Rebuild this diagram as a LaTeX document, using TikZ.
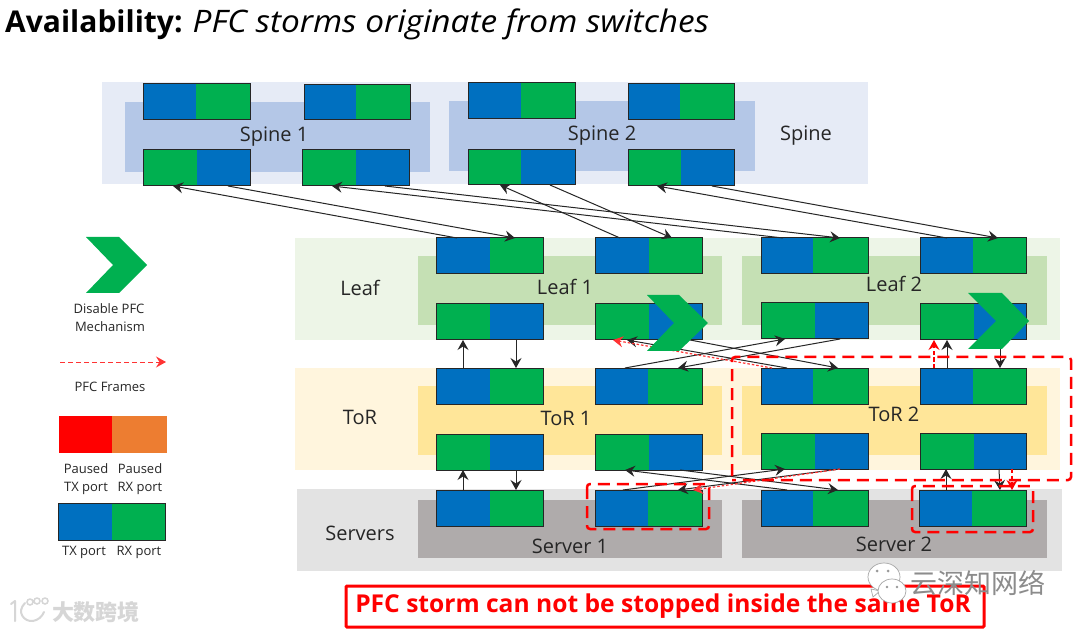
\documentclass[tikz,border=0pt]{standalone}
\usepackage{fontspec}
\setmainfont{Open Sans}
\newfontfamily\cjkfont{Noto Sans CJK SC}
\usetikzlibrary{arrows.meta}
\definecolor{pblue}{HTML}{0070C0}
\definecolor{pgreen}{HTML}{00B050}
\definecolor{spineout}{HTML}{E6EBF6}
\definecolor{spinein}{HTML}{B4C7E7}
\definecolor{leafout}{HTML}{EDF5E7}
\definecolor{leafin}{HTML}{C5E0B4}
\definecolor{torout}{HTML}{FFF5DD}
\definecolor{torin}{HTML}{FFE699}
\definecolor{srvout}{HTML}{E3E3E3}
\definecolor{srvin}{HTML}{AFABAB}
\definecolor{labelc}{HTML}{262626}
\definecolor{pausedrx}{HTML}{ED7D31}
\tikzset{
  portframe/.style={draw=black!85,line width=1pt,inner sep=0pt,outer sep=0pt},
  link/.style={draw=black!85,line width=1pt,-{Stealth[length=10pt,width=11pt,inset=3.5pt]}},
  pfc/.style={draw=red,line width=1.2pt,dash pattern=on 4pt off 2.5pt,-{Stealth[length=10pt,width=11pt,inset=3.5pt]}},
  pfcthin/.style={draw=red!80,line width=1.2pt,dash pattern=on 2.5pt off 2pt,-{Stealth[length=10pt,width=11pt,inset=3.5pt]}},
  stormbox/.style={draw=red,line width=2.5pt,dash pattern=on 12pt off 7pt,rounded corners=3pt},
  biglabel/.style={font=\fontsize{20}{24}\selectfont,text=labelc,inner sep=0pt},
  smalllabel/.style={font=\fontsize{13}{15}\selectfont,text=labelc,inner sep=0pt},
  chevron/.style={fill=pgreen,draw=none},
}
\newcommand{\portpair}[8]{%
  \fill[#7] (#2,#3) rectangle (#6,#5);
  \fill[#8] (#6,#3) rectangle (#4,#5);
  \node[portframe,minimum width={(#4-#2)*1pt},minimum height={(#5-#3)*1pt}] (#1) at ({(#2+#4)/2},{(#3+#5)/2}) {};
}
\begin{document}
\begin{tikzpicture}[x=1pt,y=-1pt]
\useasboundingbox (0,0) rectangle (1080,631);
\fill[white] (0,0) rectangle (1080,631);
% bands
\fill[spineout] (102,82) rectangle (868,184);
\fill[spinein] (125,102) rectangle (430,172);
\fill[spinein] (449,101) rectangle (755,171);
\fill[leafout] (295,238) rectangle (1060,340);
\fill[leafin] (418,256) rectangle (722,325);
\fill[leafin] (742,256) rectangle (1047,325);
\fill[torout] (295,368) rectangle (1060,470);
\fill[torin] (418,386) rectangle (722,455);
\fill[torin] (742,386) rectangle (1047,455);
\fill[srvout] (297,489) rectangle (1062,571);
\fill[srvin] (418,500) rectangle (722,558);
\fill[srvin] (742,500) rectangle (1047,558);
% title
\node[anchor=base west,inner sep=0pt,text=black] (title) at (5,33) {\fontsize{30}{34}\selectfont\textbf{Availability:}\hspace{10pt}{\fontsize{31}{34}\selectfont\itshape\addfontfeature{FakeStretch=1.077}PFC storms originate from switches}};
% labels
\node[biglabel] (lspa) at (274,137) {Spine 1};
\node[biglabel] (lspb) at (602,136) {Spine 2};
\node[biglabel] (lsp) at (806,136) {Spine};
\node[biglabel] (llf) at (360,288) {Leaf};
\node[biglabel] (llfa) at (565,287) {Leaf 1};
\node[biglabel] (llfb) at (894,284) {Leaf 2};
\node[biglabel] (ltr) at (360,417) {ToR};
\node[biglabel] (ltra) at (566,418) {ToR 1};
\node[biglabel] (ltrb) at (894,414) {ToR 2};
\node[biglabel] (lsv) at (360,533) {Servers};
\node[biglabel] (lsva) at (570,546) {Server 1};
\node[biglabel] (lsvb) at (894,544) {Server 2};
% ports
\portpair{st1}{143}{84}{250}{120}{196}{pblue}{pgreen}
\portpair{st2}{304}{85}{410}{120}{356}{pblue}{pgreen}
\portpair{st3}{468}{83}{575}{119}{521}{pblue}{pgreen}
\portpair{st4}{628}{84}{734}{120}{680}{pblue}{pgreen}
\portpair{sb1}{143}{150}{250}{186}{197}{pgreen}{pblue}
\portpair{sb2}{302}{150}{409}{186}{356}{pgreen}{pblue}
\portpair{sb3}{468}{150}{575}{185}{521}{pgreen}{pblue}
\portpair{sb4}{628}{150}{734}{186}{681}{pgreen}{pblue}
\portpair{lt1}{436}{238}{543}{274}{490}{pblue}{pgreen}
\portpair{lt2}{595}{238}{702}{274}{649}{pblue}{pgreen}
\portpair{lt3}{761}{238}{868}{274}{813}{pblue}{pgreen}
\portpair{lt4}{920}{238}{1026}{274}{973}{pblue}{pgreen}
\portpair{lb1}{436}{304}{543}{340}{490}{pgreen}{pblue}
\portpair{lb2}{595}{304}{702}{340}{649}{pgreen}{pblue}
\portpair{lb3}{761}{303}{868}{339}{815}{pgreen}{pblue}
\portpair{lb4}{920}{304}{1026}{340}{974}{pgreen}{pblue}
\portpair{tt1}{436}{368}{543}{404}{490}{pblue}{pgreen}
\portpair{tt2}{595}{368}{702}{404}{648}{pblue}{pgreen}
\portpair{tt3}{761}{368}{868}{404}{813}{pblue}{pgreen}
\portpair{tt4}{920}{368}{1026}{404}{973}{pblue}{pgreen}
\portpair{tb1}{436}{434}{543}{470}{490}{pgreen}{pblue}
\portpair{tb2}{595}{434}{702}{470}{649}{pgreen}{pblue}
\portpair{tb3}{761}{433}{868}{469}{815}{pgreen}{pblue}
\portpair{tb4}{920}{433}{1026}{469}{974}{pgreen}{pblue}
\portpair{sv1}{436}{490}{543}{526}{490}{pblue}{pgreen}
\portpair{sv2}{595}{490}{702}{526}{648}{pblue}{pgreen}
\portpair{sv3}{761}{490}{868}{526}{813}{pblue}{pgreen}
\portpair{sv4}{919}{490}{1026}{526}{972}{pblue}{pgreen}
% spine-leaf links
\draw[link] ([xshift=21pt]lt1.north west) -- ([xshift=30pt]sb1.south west);
\draw[link] ([xshift=85pt]sb1.south west) -- ([xshift=79pt]lt1.north west);
\draw[link] ([xshift=22pt]lt3.north west) -- ([xshift=30pt]sb2.south west);
\draw[link] ([xshift=83pt]sb2.south west) -- ([xshift=79pt]lt3.north west);
\draw[link] ([xshift=25pt]lt2.north west) -- ([xshift=32pt]sb3.south west);
\draw[link] ([xshift=82pt]sb3.south west) -- ([xshift=77pt]lt2.north west);
\draw[link] ([xshift=27pt]lt4.north west) -- ([xshift=29pt]sb4.south west);
\draw[link] ([xshift=84pt]sb4.south west) -- ([xshift=78pt]lt4.north west);
% leaf-tor links
\draw[link] ([xshift=27pt]tt1.north west) -- ([xshift=27pt]lb1.south west);
\draw[link] ([xshift=80pt]lb1.south west) -- ([xshift=80pt]tt1.north west);
\draw[link] ([xshift=26pt]tt3.north west) -- ([xshift=32pt]lb2.south west);
\draw[link] ([xshift=95pt]lb2.south west) -- ([xshift=77pt]tt3.north west);
\draw[link] ([xshift=30pt]tt2.north west) -- ([xshift=24pt]lb3.south west);
\draw[link] ([xshift=79pt]lb3.south west) -- ([xshift=83pt]tt2.north west);
\draw[link] ([xshift=27pt]tt4.north west) -- ([xshift=27pt]lb4.south west);
\draw[link] ([xshift=80pt]lb4.south west) -- ([xshift=80pt]tt4.north west);
% tor-server links
\draw[link] ([xshift=27pt]sv1.north west) -- ([xshift=27pt]tb1.south west);
\draw[link] ([xshift=80pt]tb1.south west) -- ([xshift=80pt]sv1.north west);
\draw[link] ([xshift=26pt]sv3.north west) -- ([xshift=30pt]tb2.south west);
\draw[link] ([xshift=85pt]tb2.south west) -- ([xshift=77pt]sv3.north west);
\draw[link] ([xshift=28pt]sv2.north west) -- ([xshift=24pt]tb3.south west);
\draw[link] ([xshift=79pt]tb3.south west) -- ([xshift=83pt]sv2.north west);
\draw[link] ([xshift=27pt]sv4.north west) -- ([xshift=26pt]tb4.south west);
\draw[link] ([xshift=79pt]tb4.south west) -- ([xshift=81pt]sv4.north west);
% PFC frames
\draw[pfcthin] ([xshift=11pt]tt3.north west) -- ([xshift=18pt]lb2.south west);
\draw[pfc] ([xshift=14pt]tt4.north west) -- ([xshift=14pt]lb4.south west);
\draw[pfcthin] ([xshift=79pt]tb3.south west) -- ([xshift=98pt]sv2.north west);
\draw[pfc] ([xshift=92pt]tb4.south west) -- ([xshift=93pt]sv4.north west);
% disable markers
\fill[chevron] (647,295) -- (679,295) -- (708,323) -- (679,351) -- (647,351) -- (674,323) -- cycle;
\fill[chevron] (968,293) -- (1002,293) -- (1029,321) -- (1002,349) -- (968,349) -- (996,321) -- cycle;
% storm boxes
\draw[stormbox] (732,476) -- (732,357) -- (1071,357) -- (1071,480) -- (732,480);
\draw[stormbox] (587,484) rectangle (709,529);
\draw[stormbox] (912,486) rectangle (1033,532);
% legend
\fill[chevron] (86,237) -- (119,237) -- (147,265) -- (119,293) -- (86,293) -- (113,265) -- cycle;
\node[smalllabel] (ldis) at (109,309) {Disable PFC};
\node[smalllabel] (lmech) at (110,327) {Mechanism};
\coordinate (fa) at (60,362);
\coordinate (fb) at (166,362);
\draw[pfcthin,dash pattern=on 5pt off 3pt,line width=1pt] (fa) -- (fb);
\node[smalllabel] (lfr) at (110,387) {PFC Frames};
\fill[red] (59,416) rectangle (112,453);
\fill[pausedrx] (112,416) rectangle (167,453);
\node[smalllabel] (lp1) at (86,469) {Paused};
\node[smalllabel] (lp2) at (86,488.5) {TX port};
\node[smalllabel] (lp3) at (140,469) {Paused};
\node[smalllabel] (lp4) at (140,488.5) {RX port};
\portpair{lgport}{58}{503}{165}{540}{112}{pblue}{pgreen}
\node[smalllabel] (lg1) at (84,552.5) {TX port};
\node[smalllabel] (lg2) at (139,552.5) {RX port};
% message box
\node[draw=red,line width=3pt,fill=white,rounded corners=1pt,minimum width=638pt,minimum height=41pt,inner sep=0pt,text=red,font=\fontsize{24.6}{28}\selectfont\bfseries] (msg) at (665,606.5) {\hspace{-4pt}PFC storm can not be stopped inside the same ToR};
% watermarks
\fill[white,draw=black!35,line width=0.7pt] (884,577) ellipse [x radius=16,y radius=14];
\fill[white,draw=black!35,line width=0.7pt] (871,589) -- (873,597) -- (880,591) -- cycle;
\fill[white,draw=black!35,line width=0.7pt] (892,591) ellipse [x radius=14,y radius=12];
\fill[black!40] (877,571) circle (1.5) (888,571) circle (1.5) (887,587) circle (1.3) (897,587) circle (1.3);
\node[inner sep=0pt,text=black!45,font=\cjkfont\fontsize{27}{30}\selectfont] (wm) at (978,583) {云深知网络};
\node[inner sep=0pt,text=black!16,font=\cjkfont\bfseries\fontsize{22}{24}\selectfont] (wml) at (96,612) {大数跨境};
\draw[black!16,line width=2pt,line cap=round,line join=round] (11,604) -- (15,601) -- (15,621);
\draw[black!16,line width=2pt,line cap=round] (25,603) .. controls (16,612) and (24,622) .. (33,621) .. controls (38,620) and (42,617) .. (44,612);
\draw[black!16,line width=1.5pt] (30,602) circle (3) (37,601) circle (3) (45,601) circle (3);
\end{tikzpicture}
\end{document}
